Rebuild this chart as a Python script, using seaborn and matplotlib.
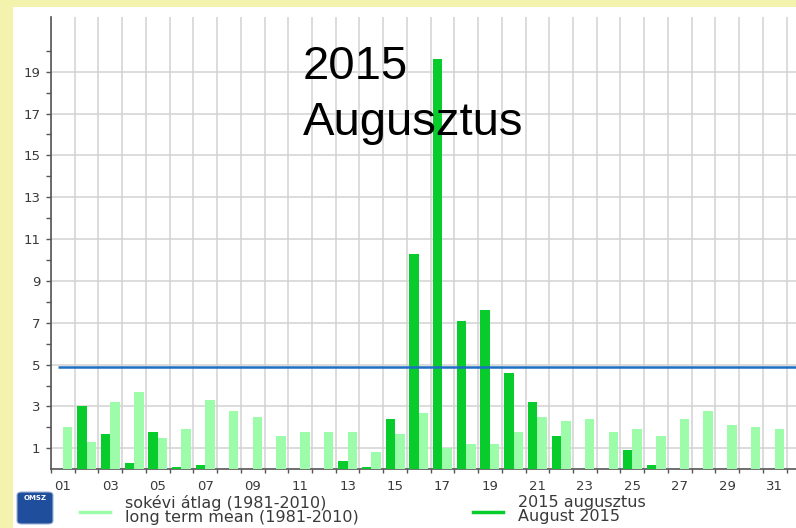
"""
2015 augusztus csapadék - napi összegek és sokévi átlag
"""

import matplotlib.pyplot as plt
from matplotlib.lines import Line2D
from matplotlib.patches import Rectangle, FancyBboxPatch
import seaborn as sns
import pandas as pd

# napok
days = [f"{d:02d}" for d in range(1, 32)]

# 2015 augusztus (mm)
rain_2015 = [0.0, 3.0, 1.7, 0.3, 1.8, 0.1, 0.2, 0.0, 0.0, 0.0,
             0.0, 0.0, 0.4, 0.1, 2.4, 10.3, 19.6, 7.1, 7.6, 4.6,
             3.2, 1.6, 0.0, 0.0, 0.9, 0.2, 0.0, 0.0, 0.0, 0.0, 0.0]

# sokévi átlag (1981-2010)
rain_mean = [2.0, 1.3, 3.2, 3.7, 1.5, 1.9, 3.3, 2.8, 2.5, 1.6,
             1.8, 1.8, 1.8, 0.8, 1.7, 2.7, 1.0, 1.2, 1.2, 1.8,
             2.5, 2.3, 2.4, 1.8, 1.9, 1.6, 2.4, 2.8, 2.1, 2.0, 1.9]

threshold = 4.9

series_labels = ["2015 augusztus\nAugust 2015",
                 "sokévi átlag (1981-2010)\nlong term mean (1981-2010)"]
title_lines = ["2015", "Augusztus"]

dark_green = "#08cc2c"
light_green = "#9cfcaa"
blue = "#1f6fc4"
grid_color = "#d2d2d2"
axis_color = "#555555"
text_color = "#3a3a3a"

df = pd.DataFrame({
    "nap": days * 2,
    "mm": rain_2015 + rain_mean,
    "sorozat": ["2015"] * len(days) + ["atlag"] * len(days),
})

fig = plt.figure(figsize=(7.96, 5.28), dpi=100, facecolor="#f3f3ad")
# fehér háttér a sárga keretben
fig.add_artist(Rectangle((13 / 796, 0), 1, 521 / 528, transform=fig.transFigure,
                         facecolor="white", edgecolor="none", zorder=0))

ax = fig.add_axes([51 / 796, 58.8 / 528, 1 - 51 / 796, 451.9 / 528])
ax.set_facecolor("none")

sns.barplot(data=df, x="nap", y="mm", hue="sorozat", order=days,
            hue_order=["2015", "atlag"],
            palette={"2015": dark_green, "atlag": light_green},
            saturation=1, width=0.8, errorbar=None, legend=False, ax=ax, zorder=3)

ax.hlines(threshold, -0.2, 31, color=blue, linewidth=1.8, zorder=4)

ax.set_xlim(-0.5, 30.9)
ax.set_ylim(0, 21.6)

# rács a napok határán, feliratok középen
ax.set_xticks([i - 0.5 for i in range(32)])
ax.set_xticklabels([])
ax.set_xticks(range(0, 31, 2), labels=days[::2], minor=True)
ax.set_yticks(range(1, 21, 2))
ax.set_yticks(range(2, 21, 2), minor=True)

ax.tick_params(axis="x", which="major", length=3, width=1, color=axis_color)
ax.tick_params(axis="x", which="minor", length=0, pad=8, labelsize=9.5, labelcolor=text_color)
ax.tick_params(axis="y", which="both", length=3.6, width=1, color=axis_color,
               pad=4, labelsize=9.5, labelcolor=text_color)

ax.grid(True, which="major", color=grid_color, linewidth=1.1, zorder=0)
ax.set_axisbelow(True)
ax.set_xlabel("")
ax.set_ylabel("")

for side in ["top", "right"]:
    ax.spines[side].set_visible(False)
for side in ["left", "bottom"]:
    ax.spines[side].set_color(axis_color)
    ax.spines[side].set_linewidth(1.2)

# cím
fig.text(303 / 796, 1 - 79 / 528, title_lines[0], fontsize=34,
         family="Liberation Sans", color="black", va="baseline")
fig.text(303 / 796, 1 - 135 / 528, title_lines[1], fontsize=34,
         family="Liberation Sans", color="black", va="baseline")

# jelmagyarázat
fig.add_artist(Line2D([80 / 796, 110 / 796], [1 - 512 / 528] * 2,
                      color=light_green, linewidth=2.5, transform=fig.transFigure))
fig.text(125 / 796, 1 - 495 / 528, series_labels[1], fontsize=11.5,
         color=text_color, va="top", linespacing=0.9)
fig.add_artist(Line2D([473 / 796, 503 / 796], [1 - 512 / 528] * 2,
                      color=dark_green, linewidth=2.5, transform=fig.transFigure))
fig.text(518 / 796, 1 - 495 / 528, series_labels[0], fontsize=11.5,
         color=text_color, va="top", linespacing=0.9)

# OMSZ logó (egyszerűsítve)
fig.add_artist(FancyBboxPatch((17 / 796, 4 / 528), 36 / 796, 32 / 528,
                              boxstyle="round,pad=0,rounding_size=0.006",
                              transform=fig.transFigure, facecolor="#1f4e9c",
                              edgecolor="#9fb3d6", linewidth=0.8))
fig.text(35 / 796, 1 - 498 / 528, "OMSZ", fontsize=5, color="white",
         ha="center", va="center", weight="bold")

fig.savefig("out.png", dpi=100, facecolor=fig.get_facecolor())
